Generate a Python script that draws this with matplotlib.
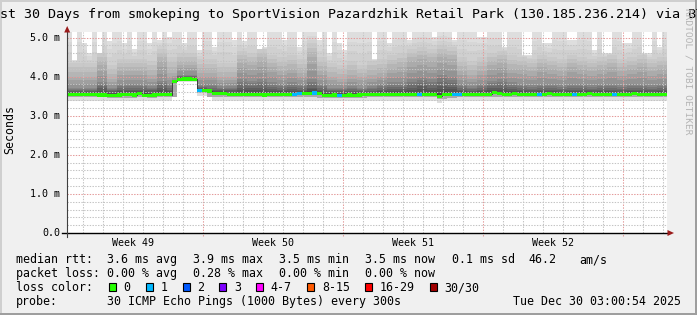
import numpy as np
import matplotlib
matplotlib.use("Agg")
import matplotlib.pyplot as plt
from matplotlib.patches import Rectangle, Polygon
from matplotlib.colors import to_rgb

plt.rcParams['lines.scale_dashes'] = False

# ---------------- data ----------------
title = "Last 30 Days from smokeping to SportVision Pazardzhik Retail Park (130.185.236.214) via BTC"
y_label = "Seconds"
y_ticks = [0.0, 1.0, 2.0, 3.0, 4.0, 5.0]
y_tick_labels = ["0.0", "1.0 m", "2.0 m", "3.0 m", "4.0 m", "5.0 m"]
week_labels = ["Week 49", "Week 50", "Week 51", "Week 52"]
week_label_days = [3.3, 10.3, 17.3, 24.3]
week_start_days = [6.8, 13.8, 20.8, 27.8]
day_grid_start = 0.8
n_days = 30

# median rtt (ms), 6-hour steps (120 values)
median = [3.54, 3.54, 3.54, 3.54, 3.54, 3.54, 3.53, 3.53, 3.51, 3.51,
          3.53, 3.54, 3.54, 3.53, 3.56, 3.52, 3.52, 3.53, 3.54, 3.54,
          3.54, 3.88, 3.92, 3.94, 3.94, 3.93, 3.64, 3.64, 3.63, 3.56,
          3.56, 3.56, 3.55, 3.54, 3.54, 3.54, 3.55, 3.54, 3.54, 3.53,
          3.54, 3.54, 3.55, 3.54, 3.54, 3.55, 3.57, 3.57, 3.57, 3.58,
          3.57, 3.52, 3.52, 3.53, 3.52, 3.52, 3.53, 3.52, 3.53, 3.54,
          3.54, 3.55, 3.55, 3.55, 3.54, 3.55, 3.55, 3.55, 3.54, 3.55,
          3.55, 3.55, 3.54, 3.55, 3.50, 3.55, 3.54, 3.55, 3.55, 3.55,
          3.54, 3.55, 3.55, 3.55, 3.55, 3.60, 3.56, 3.55, 3.55, 3.56,
          3.55, 3.55, 3.55, 3.54, 3.55, 3.55, 3.56, 3.55, 3.55, 3.55,
          3.54, 3.55, 3.55, 3.55, 3.56, 3.55, 3.55, 3.55, 3.54, 3.55,
          3.55, 3.55, 3.55, 3.56, 3.55, 3.55, 3.55, 3.55, 3.55, 3.55]

# packet loss count (of 30) per step
loss = [0] * 120
for i in (26, 45, 46, 49, 54, 70, 77, 78, 94, 101, 109):
    loss[i] = 1

# smoke: highest ping per step (ms)
smoke_max = [5.14, 4.42, 5.14, 4.85, 4.60, 5.14, 4.30, 5.14, 4.90, 5.14,
             5.14, 4.85, 5.14, 4.70, 5.14, 5.14, 4.85, 5.14, 4.94, 5.14,
             5.02, 5.14, 5.14, 4.85, 5.14, 5.14, 4.68, 5.14, 5.14, 4.76,
             5.14, 5.14, 5.14, 4.94, 5.14, 4.90, 5.14, 5.14, 4.68, 4.75,
             5.14, 5.14, 5.14, 4.94, 5.14, 5.14, 4.76, 5.14, 5.14, 5.14,
             4.94, 5.14, 4.60, 5.14, 4.85, 4.68, 5.14, 5.14, 5.14, 5.14,
             5.14, 4.45, 5.14, 5.14, 4.85, 5.14, 5.14, 5.14, 4.94, 5.14,
             5.14, 5.14, 5.14, 5.02, 5.14, 5.14, 5.14, 4.94, 5.14, 5.14,
             5.14, 5.14, 5.02, 5.02, 5.14, 5.14, 5.14, 4.76, 5.14, 5.14,
             5.14, 4.55, 4.55, 5.14, 5.14, 4.85, 4.85, 5.14, 5.14, 5.14,
             4.94, 4.94, 5.14, 5.14, 5.14, 4.68, 5.14, 4.60, 4.60, 5.14,
             5.14, 4.85, 4.85, 5.14, 5.14, 4.60, 4.60, 5.14, 4.76, 5.14]

# smoke: lowest ping per step (ms)
smoke_min = [3.38] * 21 + [3.86, 3.86, 3.86, 3.86, 3.86, 3.50, 3.50, 3.50] + [3.38] * 45 \
            + [3.33] + [3.38] * 45

# smoke quantile envelopes, 12-hour steps (60 values)
smoke_q80 = [4.35, 4.35, 4.35, 4.60, 4.30, 4.45, 4.45, 4.45, 4.40, 4.70,
             4.50, 4.60, 4.60, 4.45, 4.45, 4.35, 4.35, 4.65, 4.60, 4.70,
             4.55, 4.50, 4.55, 4.45, 4.85, 4.50, 4.35, 4.30, 4.40, 4.30,
             4.40, 4.45, 4.55, 4.60, 4.70, 4.75, 4.70, 4.80, 4.75, 4.50,
             4.40, 4.50, 4.60, 4.65, 4.55, 4.50, 4.45, 4.55, 4.50, 4.45,
             4.55, 4.50, 4.45, 4.50, 4.55, 4.45, 4.50, 4.55, 4.45, 4.50]
smoke_q65 = [4.00, 4.00, 4.00, 4.30, 3.95, 4.15, 4.15, 4.15, 4.05, 4.40,
             4.10, 4.30, 4.30, 4.10, 4.10, 4.00, 4.00, 4.35, 4.30, 4.40,
             4.25, 4.15, 4.20, 4.10, 4.50, 4.15, 4.00, 3.95, 4.05, 4.00,
             4.05, 4.10, 4.20, 4.25, 4.40, 4.45, 4.40, 4.50, 4.45, 4.15,
             4.05, 4.15, 4.30, 4.35, 4.20, 4.20, 4.15, 4.25, 4.20, 4.15,
             4.25, 4.20, 4.15, 4.20, 4.25, 4.15, 4.20, 4.25, 4.15, 4.20]
smoke_q55 = [3.72, 3.72, 3.72, 3.85, 3.70, 3.80, 3.80, 3.80, 3.75, 3.90,
             3.80, 4.05, 4.05, 3.80, 3.80, 3.75, 3.75, 3.95, 3.90, 3.95,
             3.85, 3.80, 3.85, 3.80, 3.95, 3.80, 3.72, 3.70, 3.75, 3.72,
             3.75, 3.80, 3.85, 3.85, 3.95, 4.00, 3.95, 4.05, 4.00, 3.80,
             3.75, 3.80, 3.90, 3.95, 3.85, 3.80, 3.78, 3.82, 3.80, 3.78,
             3.82, 3.80, 3.78, 3.80, 3.82, 3.78, 3.80, 3.82, 3.78, 3.80]
smoke_q52 = [3.64, 3.64, 3.64, 3.70, 3.63, 3.67, 3.67, 3.67, 3.65, 3.72,
             3.66, 3.98, 3.98, 3.70, 3.66, 3.65, 3.65, 3.72, 3.70, 3.72,
             3.68, 3.67, 3.68, 3.67, 3.72, 3.66, 3.63, 3.62, 3.64, 3.63,
             3.64, 3.66, 3.68, 3.68, 3.72, 3.75, 3.72, 3.76, 3.74, 3.66,
             3.64, 3.66, 3.70, 3.72, 3.68, 3.66, 3.65, 3.67, 3.66, 3.65,
             3.67, 3.66, 3.65, 3.66, 3.67, 3.65, 3.66, 3.67, 3.65, 3.66]
smoke_q45 = [3.47, 3.47, 3.47, 3.47, 3.45, 3.46, 3.46, 3.47, 3.46, 3.47,
             3.47, 3.90, 3.90, 3.58, 3.48, 3.48, 3.48, 3.47, 3.47, 3.47,
             3.47, 3.47, 3.47, 3.47, 3.48, 3.46, 3.46, 3.46, 3.46, 3.46,
             3.47, 3.47, 3.47, 3.47, 3.47, 3.47, 3.47, 3.42, 3.46, 3.47,
             3.47, 3.47, 3.48, 3.48, 3.47, 3.47, 3.47, 3.47, 3.47, 3.47,
             3.47, 3.47, 3.47, 3.47, 3.47, 3.47, 3.47, 3.47, 3.47, 3.47]

stats_rtt = ["3.6 ms avg", "3.9 ms max", "3.5 ms min", "3.5 ms now", "0.1 ms sd", "46.2", "am/s"]
stats_loss = ["0.00 % avg", "0.28 % max", "0.00 % min", "0.00 % now"]
loss_labels = ["0", "1", "2", "3", "4-7", "8-15", "16-29", "30/30"]
loss_colors = ["#26ff00", "#00b8ff", "#0059ff", "#7e00ff", "#ff00ff", "#ff5a00", "#ff0000", "#a10000"]
probe_text = "30 ICMP Echo Pings (1000 Bytes) every 300s"
date_text = "Tue Dec 30 03:00:54 2025"

# ---------------- figure ----------------
W, H = 697, 315
PX_PER_MS = 39.1
fig = plt.figure(figsize=(W / 100, H / 100), dpi=100)
fig.patch.set_facecolor("#F0F0F0")

def fx(x):
    return x / W

def fy(y):
    return 1 - y / H

# 3D frame
fig.add_artist(Rectangle((0, 0), fx(2), 1, transform=fig.transFigure, color="#CFCFCF", lw=0))
fig.add_artist(Rectangle((0, fy(2)), 1, 2 / H, transform=fig.transFigure, color="#CFCFCF", lw=0))
fig.add_artist(Rectangle((fx(695), 0), 2 / W, 1, transform=fig.transFigure, color="#9E9E9E", lw=0))
fig.add_artist(Rectangle((0, 0), 1, 2 / H, transform=fig.transFigure, color="#9E9E9E", lw=0))

L, T, R, B = 67, 32, 667, 233
ax = fig.add_axes([fx(L), fy(B), (R - L) / W, (B - T) / H])
ax.set_facecolor("white")
for s in ax.spines.values():
    s.set_visible(False)
ax.set_xticks([])
ax.set_yticks([])
ymax = (B - T) / PX_PER_MS
ax.set_xlim(0, n_days)
ax.set_ylim(0, ymax)

n = len(median)
step = n_days / n
xe = np.arange(n + 1) * step
med = np.array(median)

def ext(a):
    a = np.asarray(a, float)
    return np.append(a, a[-1])

def up(a):
    return np.repeat(np.asarray(a, float), 2)

def band(lo, hi, color, z=1):
    lo = np.asarray(lo, float)
    hi = np.maximum(np.asarray(hi, float), lo)
    ax.fill_between(xe, ext(lo), ext(hi), step="post", color=color, lw=0, zorder=z)

def mix(c1, c2, t):
    a, b = np.array(to_rgb(c1)), np.array(to_rgb(c2))
    return tuple(a + (b - a) * t)

# outer envelope
band(smoke_min, smoke_max, "#DEDEDE")
# graded smoke above the median, outermost first
levels = [(np.array(smoke_max, float), "#DEDEDE"),
          (up(smoke_q80), "#C9C9C9"),
          (up(smoke_q65), "#ABABAB"),
          (up(smoke_q55), "#868686"),
          (up(smoke_q52), "#5E5E5E"),
          (med, "#3C3C3C")]
for (h1, c1), (h2, c2) in zip(levels[:-1], levels[1:]):
    for t in (0.0, 0.33, 0.66):
        if t == 0.0 and c1 == "#DEDEDE":
            continue
        hb = np.maximum(h1, med) * (1 - t) + np.maximum(h2, med) * t
        band(med, hb, mix(c1, c2, t))
# below the median
band(np.minimum(up(smoke_q45), med), med, "#A8A8A8")

# grid
dot = (0, (1, 1))
for k in range(n_days):
    d = day_grid_start + k
    if any(abs(d - w) < 1e-6 for w in week_start_days):
        continue
    ax.plot([d, d], [0, ymax], color="#C4C4C4", lw=0.75, ls=dot, zorder=3)
for w in week_start_days:
    ax.plot([w, w], [-3 / PX_PER_MS, ymax], color="#E49A9A", lw=0.75, ls=dot, zorder=3, clip_on=False)
for j in range(1, 26):
    v = j * 0.2
    if j % 5 == 0:
        ax.plot([0, n_days], [v, v], color="#E49A9A", lw=0.75, ls=dot, zorder=3)
    else:
        ax.plot([0, n_days], [v, v], color="#C4C4C4", lw=0.75, ls=dot, zorder=3)

# median line coloured by loss
ax.step(xe, ext(med), where="post", color="#303030", lw=0.6, zorder=4)
half = 1.6 / PX_PER_MS
for i in range(n):
    ci = loss[i] if loss[i] < 4 else 4
    ax.fill_between([xe[i], xe[i + 1]], med[i] - half, med[i] + half,
                    color=loss_colors[ci], lw=0, zorder=5)

# axes lines
ax.plot([-5 / 20, n_days + 0.05], [0, 0], color="black", lw=1.0, zorder=6, clip_on=False)
ax.plot([0, 0], [-4 / PX_PER_MS, ymax + 1 / PX_PER_MS], color="#404040", lw=0.8, zorder=6, clip_on=False)
arrow_col = "#9B1B1B"
fig.add_artist(Polygon([[fx(64.2), fy(32.5)], [fx(70.2), fy(32.5)], [fx(67.2), fy(26)]],
                       closed=True, transform=fig.transFigure, color=arrow_col, lw=0))
fig.add_artist(Polygon([[fx(667.5), fy(230)], [fx(667.5), fy(236)], [fx(674), fy(233)]],
                       closed=True, transform=fig.transFigure, color=arrow_col, lw=0))

mono = "DejaVu Sans Mono"
# title (clipped at both figure edges, as in the original)
fig.text(fx(-15.5), fy(18.3), title, family=mono, size=9.62, ha="left", va="baseline", color="black")
# watermark
fig.text(fx(688), fy(8), "RRDTOOL / TOBI OETIKER", family=mono, size=6.8, rotation=-90,
         ha="center", va="top", color="#B4B4B4")
# y label
fig.text(fx(10), fy(130), y_label, family=mono, size=8.4, rotation=90, ha="center", va="center")
# y tick labels
for v, lab in zip(y_ticks, y_tick_labels):
    ypix = B - v * PX_PER_MS
    fig.text(fx(60), fy(ypix + 3.4), lab, family=mono, size=7.2, ha="right", va="baseline")
# x tick labels
for d, lab in zip(week_label_days, week_labels):
    fig.text(fx(L + d * 20), fy(245.7), lab, family=mono, size=7.2, ha="center", va="baseline")

# legend
lsz = 8.4
rows = [263.3, 277.3, 291.3, 305.3]
fig.text(fx(16), fy(rows[0]), "median rtt:", family=mono, size=lsz, va="baseline")
for xx, s in zip([107, 193, 279, 365, 451.5, 528, 579], stats_rtt):
    fig.text(fx(xx), fy(rows[0]), s, family=mono, size=lsz, va="baseline")
fig.text(fx(16), fy(rows[1]), "packet loss:", family=mono, size=lsz, va="baseline")
for xx, s in zip([107, 193, 279, 365], stats_loss):
    fig.text(fx(xx), fy(rows[1]), s, family=mono, size=lsz, va="baseline")
fig.text(fx(16), fy(rows[2]), "loss color:", family=mono, size=lsz, va="baseline")
box_x = [108.7, 145.7, 182.7, 219.3, 256, 307.3, 365, 430]
for bx, c, lab in zip(box_x, loss_colors, loss_labels):
    fig.add_artist(Rectangle((fx(bx), fy(290.7)), 7 / W, 7.5 / H, transform=fig.transFigure,
                             facecolor=c, edgecolor="black", lw=0.8))
    fig.text(fx(bx + 14.5), fy(rows[2]), lab, family=mono, size=lsz, va="baseline")
fig.text(fx(16), fy(rows[3]), "probe:", family=mono, size=lsz, va="baseline")
fig.text(fx(107), fy(rows[3]), probe_text, family=mono, size=lsz, va="baseline")
fig.text(fx(513.3), fy(rows[3]), date_text, family=mono, size=lsz, va="baseline")

fig.savefig("out.png", dpi=100, facecolor=fig.get_facecolor())
